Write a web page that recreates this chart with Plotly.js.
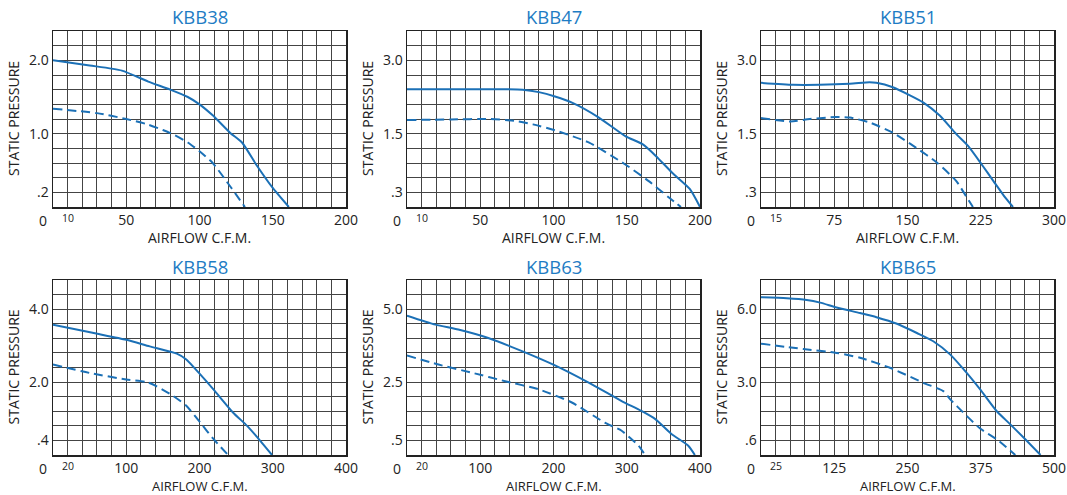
<!DOCTYPE html>
<html>
<head>
<meta charset="utf-8">
<script src="https://cdn.plot.ly/plotly-3.0.1.min.js"></script>
<style>html,body{margin:0;padding:0;background:#fff;}#chart{width:1067px;height:495px;}</style>
</head>
<body>
<div id="chart"></div>
<script>
// ---- chart data ----
const titles = ['KBB38', 'KBB47', 'KBB51', 'KBB58', 'KBB63', 'KBB65'];
const xMax = [200, 200, 300, 400, 400, 500];
const yMax = [2.4, 3.6, 3.6, 4.8, 6.0, 7.2];
const xTickVals = [[50,100,150,200],[50,100,150,200],[75,150,225,300],[100,200,300,400],[100,200,300,400],[125,250,375,500]];
const xSmallLabel = ['10', '10', '15', '20', '20', '25'];
const yTickVals = [[0.2,1.0,2.0],[0.3,1.5,3.0],[0.3,1.5,3.0],[0.4,2.0,4.0],[0.5,2.5,5.0],[0.6,3.0,6.0]];
const yTickText = [['.2','1.0','2.0'],['.3','1.5','3.0'],['.3','1.5','3.0'],['.4','2.0','4.0'],['.5','2.5','5.0'],['.6','3.0','6.0']];

// curves: solid (upper) and dashed (lower)
const kbb38SolidX = [0, 25, 47, 65, 80, 92, 100, 109, 121, 129, 139, 150, 161];
const kbb38SolidY = [2.0, 1.93, 1.86, 1.71, 1.6, 1.5, 1.4, 1.25, 1.01, 0.88, 0.57, 0.26, 0];
const kbb38DashX = [0, 30, 50, 64, 75, 82, 92, 100, 109, 121, 131];
const kbb38DashY = [1.34, 1.28, 1.2, 1.13, 1.05, 0.99, 0.88, 0.76, 0.6, 0.28, 0];

const kbb47SolidX = [0, 30, 56, 67, 79, 90, 101, 113, 131, 149, 161, 170, 181, 193, 200];
const kbb47SolidY = [2.41, 2.41, 2.41, 2.41, 2.40, 2.35, 2.26, 2.13, 1.83, 1.45, 1.28, 1.04, 0.70, 0.37, 0];
const kbb47DashX = [0, 30, 56, 74, 86, 101, 124, 149, 165, 179, 187];
const kbb47DashY = [1.78, 1.79, 1.80, 1.76, 1.69, 1.57, 1.32, 0.87, 0.53, 0.19, 0];

const kbb51SolidX = [0, 33, 60, 91, 111, 118, 135, 152, 166, 183, 200, 212, 226, 238, 248, 258];
const kbb51SolidY = [2.54, 2.50, 2.50, 2.52, 2.55, 2.54, 2.45, 2.29, 2.14, 1.87, 1.49, 1.25, 0.87, 0.53, 0.25, 0];
const kbb51DashX = [0, 30, 50, 77, 91, 111, 135, 159, 180, 200, 210, 217];
const kbb51DashY = [1.82, 1.75, 1.80, 1.84, 1.83, 1.73, 1.52, 1.21, 0.91, 0.53, 0.22, 0];

const kbb58SolidX = [0, 59, 100, 132, 169, 182, 201, 219, 246, 265, 283, 299];
const kbb58SolidY = [3.57, 3.33, 3.16, 2.98, 2.78, 2.62, 2.21, 1.80, 1.16, 0.80, 0.39, 0];
const kbb58DashX = [0, 50, 100, 128, 141, 164, 182, 201, 219, 239];
const kbb58DashY = [2.48, 2.25, 2.07, 2.00, 1.89, 1.62, 1.35, 0.89, 0.44, 0];

const kbb63SolidX = [0, 39, 70, 111, 157, 202, 248, 293, 320, 339, 361, 384, 393];
const kbb63SolidY = [4.78, 4.47, 4.30, 4.01, 3.56, 3.07, 2.48, 1.85, 1.51, 1.23, 0.72, 0.32, 0];
const kbb63DashX = [0, 43, 89, 134, 180, 225, 270, 293, 316, 325];
const kbb63DashY = [3.41, 3.10, 2.82, 2.53, 2.25, 1.80, 1.11, 0.83, 0.32, 0];

const kbb65SolidX = [0, 44, 78, 101, 129, 169, 197, 232, 266, 294, 323, 351, 374, 402, 425, 448, 477];
const kbb65SolidY = [6.49, 6.45, 6.38, 6.27, 6.07, 5.84, 5.67, 5.40, 5.02, 4.68, 4.13, 3.38, 2.70, 1.81, 1.27, 0.72, 0];
const kbb65DashX = [0, 72, 129, 169, 220, 277, 311, 323, 345, 374, 402, 434];
const kbb65DashY = [4.58, 4.36, 4.20, 4.00, 3.59, 2.97, 2.63, 2.29, 1.75, 1.09, 0.65, 0];

const solidX = [kbb38SolidX, kbb47SolidX, kbb51SolidX, kbb58SolidX, kbb63SolidX, kbb65SolidX];
const solidY = [kbb38SolidY, kbb47SolidY, kbb51SolidY, kbb58SolidY, kbb63SolidY, kbb65SolidY];
const dashX = [kbb38DashX, kbb47DashX, kbb51DashX, kbb58DashX, kbb63DashX, kbb65DashX];
const dashY = [kbb38DashY, kbb47DashY, kbb51DashY, kbb58DashY, kbb63DashY, kbb65DashY];

// ---- layout ----
const W = 1067, H = 495;
const colPx = [[53, 346], [407, 700], [761, 1054]];
const rowPx = [[31, 207], [280, 455]];
const FONT = 'Open Sans, DejaVu Sans, sans-serif';
const LINE_COLOR = '#1b70b6';
const TITLE_COLOR = '#1e7cc4';
const GRID_COLOR = '#444444';

const traces = [];
const layout = {
  width: W, height: H,
  margin: {l: 0, r: 0, t: 0, b: 0},
  paper_bgcolor: '#fff', plot_bgcolor: '#fff',
  showlegend: false,
  font: {family: FONT, color: '#222', size: 14},
  annotations: []
};

function near(a, b) { return Math.abs(a - b) < 1e-6; }

for (let i = 0; i < 6; i++) {
  const c = i % 3, r = Math.floor(i / 3);
  const n = i + 1;
  const xa = 'xaxis' + (n === 1 ? '' : n), ya = 'yaxis' + (n === 1 ? '' : n);
  const xr = 'x' + (n === 1 ? '' : n), yr = 'y' + (n === 1 ? '' : n);

  const xv = [], xt = [];
  for (let k = 0; k <= 20; k++) {
    const v = xMax[i] * k / 20;
    xv.push(v);
    const idx = xTickVals[i].findIndex(t => near(t, v));
    xt.push(idx >= 0 ? String(xTickVals[i][idx]) : '');
  }
  const yv = [], yt = [];
  for (let k = 0; k <= 12; k++) {
    const v = yMax[i] * k / 12;
    yv.push(v);
    const idx = yTickVals[i].findIndex(t => near(t, v));
    yt.push(idx >= 0 ? yTickText[i][idx] : '');
  }

  layout[xa] = {
    domain: [colPx[c][0] / W, colPx[c][1] / W],
    anchor: yr,
    range: [0, xMax[i]],
    tickmode: 'array', tickvals: xv, ticktext: xt,
    ticks: '', showgrid: true, gridcolor: GRID_COLOR, gridwidth: 1,
    showline: true, mirror: true, linecolor: '#222', linewidth: 1.5,
    zeroline: false, fixedrange: true,
    tickfont: {family: FONT, size: 14, color: '#222'}
  };
  layout[ya] = {
    domain: [1 - rowPx[r][1] / H, 1 - rowPx[r][0] / H],
    anchor: xr,
    range: [0, yMax[i]],
    tickmode: 'array', tickvals: yv, ticktext: yt,
    ticks: '', showgrid: true, gridcolor: GRID_COLOR, gridwidth: 1,
    showline: true, mirror: true, linecolor: '#222', linewidth: 1.5,
    zeroline: false, fixedrange: true,
    tickfont: {family: FONT, size: 14, color: '#222'}
  };

  traces.push({
    x: solidX[i], y: solidY[i], xaxis: xr, yaxis: yr,
    type: 'scatter', mode: 'lines',
    line: {color: LINE_COLOR, width: 2, shape: 'spline', smoothing: 0.6},
    hoverinfo: 'skip'
  });
  traces.push({
    x: dashX[i], y: dashY[i], xaxis: xr, yaxis: yr,
    type: 'scatter', mode: 'lines',
    line: {color: LINE_COLOR, width: 2, shape: 'spline', smoothing: 0.6, dash: '9px,5px'},
    hoverinfo: 'skip'
  });

  const xd = xr + ' domain', yd = yr + ' domain';
  layout.annotations.push({
    text: titles[i], xref: xd, yref: yd, x: 0.5, y: 1, yshift: 14,
    xanchor: 'center', yanchor: 'middle', showarrow: false,
    font: {family: FONT, size: 18.5, color: TITLE_COLOR}
  });
  layout.annotations.push({
    text: 'AIRFLOW C.F.M.', xref: xd, yref: yd, x: 0.5, y: 0, yshift: r === 0 ? -30 : -31,
    xanchor: 'center', yanchor: 'middle', showarrow: false, borderpad: 0,
    font: {family: FONT, size: r === 0 ? 14 : 13, color: '#222'}
  });
  layout.annotations.push({
    text: 'STATIC PRESSURE', xref: xd, yref: yd, x: 0, y: 0.5, xshift: -40,
    xanchor: 'center', yanchor: 'middle', textangle: -90, showarrow: false,
    font: {family: FONT, size: 14, color: '#222'}
  });
  layout.annotations.push({
    text: '0', xref: xd, yref: yd, x: 0, y: 0, xshift: -10, yshift: -13,
    xanchor: 'center', yanchor: 'middle', showarrow: false,
    font: {family: FONT, size: 14, color: '#222'}
  });
  layout.annotations.push({
    text: xSmallLabel[i], xref: xr, yref: yd, x: xMax[i] / 20, y: 0, yshift: -11,
    xanchor: 'center', yanchor: 'middle', showarrow: false,
    font: {family: FONT, size: 10.5, color: '#222'}
  });
}

Plotly.newPlot('chart', traces, layout, {staticPlot: true, displayModeBar: false});
</script>
</body>
</html>
